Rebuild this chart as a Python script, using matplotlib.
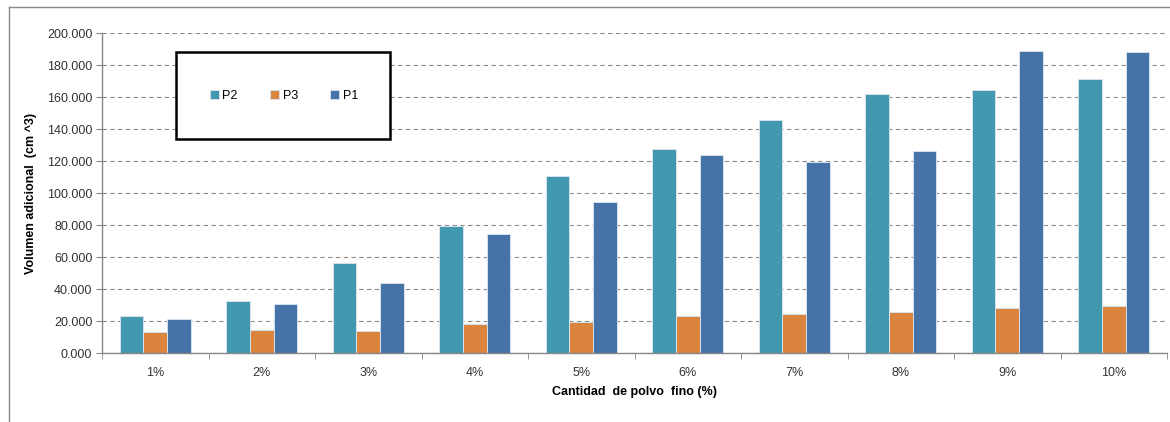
import numpy as np
import matplotlib.pyplot as plt
from matplotlib.patches import Rectangle
from matplotlib.lines import Line2D
from matplotlib.ticker import FormatStrFormatter, FixedLocator

plt.rcParams['font.family'] = ['Liberation Sans', 'DejaVu Sans']

# Additional volume per fine-dust content
categories = ['1%', '2%', '3%', '4%', '5%', '6%', '7%', '8%', '9%', '10%']
p2 = [23.2, 32.4, 56.1, 79.7, 110.9, 127.7, 145.4, 162.2, 164.5, 171.3]
p3 = [13.5, 14.7, 14.1, 18.1, 19.7, 23.2, 24.5, 25.9, 28.0, 29.5]
p1 = [21.4, 30.5, 44.2, 74.8, 94.5, 123.7, 119.4, 126.5, 189.0, 188.3]

series = [('P2', p2, '#4198AF'), ('P3', p3, '#DB843D'), ('P1', p1, '#4572A7')]

W, H = 1170, 422
fig = plt.figure(figsize=(W / 100, H / 100), dpi=100)
ax = fig.add_axes([102 / W, 1 - 353.3 / H, (1167 - 102) / W, (353.3 - 33) / H])

x = np.arange(len(categories))
bw = 0.222
for i, (name, vals, col) in enumerate(series):
    ax.bar(x + (i - 1) * bw, vals, width=bw, color=col, edgecolor='#d6e2ee',
           linewidth=0.7, label=name, zorder=3)

ax.set_xlim(-0.5, len(categories) - 0.5)
ax.set_ylim(0, 200)
ax.set_yticks(np.arange(0, 201, 20))
ax.yaxis.set_major_formatter(FormatStrFormatter('%.3f'))
ax.set_xticks(x)
ax.set_xticklabels(categories)
ax.xaxis.set_minor_locator(FixedLocator(np.arange(-0.5, len(categories), 1)))
ax.tick_params(axis='x', which='major', length=0, pad=10, labelsize=9, colors='#333333')
ax.tick_params(axis='x', which='minor', length=4, color='#868686')
ax.tick_params(axis='y', length=4, color='#868686', labelsize=9, labelcolor='#333333', pad=3)

ax.grid(axis='y', color='#8c8c8c', linestyle=(0, (4, 3)), linewidth=0.8, zorder=0)
for s in ['top', 'right']:
    ax.spines[s].set_visible(False)
for s in ['left', 'bottom']:
    ax.spines[s].set_color('#868686')
    ax.spines[s].set_linewidth(1)
    ax.spines[s].set_zorder(4)

ax.set_xlabel('Cantidad  de polvo  fino (%)', fontsize=9, fontweight='bold', labelpad=5)
ax.set_ylabel('Volumen adicional  (cm ^3)', fontsize=9, fontweight='bold', labelpad=7)

# legend box
fig.add_artist(Rectangle((175.7 / W, 1 - 139.3 / H), (390 - 175.7) / W, (139.3 - 51.7) / H,
                         transform=fig.transFigure, fill=True, facecolor='white',
                         edgecolor='black', linewidth=1.8, zorder=5))
leg = fig.legend(loc='center', bbox_to_anchor=(284 / W, 1 - 96 / H), ncol=3,
                 frameon=False, fontsize=9, handlelength=0.7, handleheight=0.7,
                 handletextpad=0.3, columnspacing=2.6)
leg.set_zorder(6)

# outer chart frame
fig.add_artist(Line2D([9 / W, 1], [1 - 7 / H, 1 - 7 / H], transform=fig.transFigure,
                      color='#888888', linewidth=1))
fig.add_artist(Line2D([9 / W, 9 / W], [0, 1 - 7 / H], transform=fig.transFigure,
                      color='#888888', linewidth=1))

fig.savefig('out.png', dpi=100)
